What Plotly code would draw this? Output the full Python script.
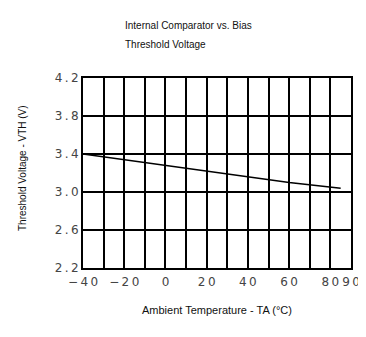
import plotly.graph_objects as go

# threshold voltage vs ambient temperature
temp_c = [-40, -20, 0, 20, 40, 60, 85]
threshold_v = [3.40, 3.34, 3.28, 3.22, 3.16, 3.10, 3.04]

x_grid = [-40, -30, -20, -10, 0, 10, 20, 30, 40, 50, 60, 70, 80, 90]
x_labels = ["\u221240", "", "\u221220", "", "0", "", "20", "", "40", "", "60", "", "80", "90"]
y_ticks = [2.2, 2.6, 3.0, 3.4, 3.8, 4.2]
y_labels = ["2.2", "2.6", "3.0", "3.4", "3.8", "4.2"]

title_lines = ["Internal Comparator vs. Bias", "Threshold Voltage"]
x_title = "Ambient Temperature - TA (\u00b0C)"
y_title = "Threshold Voltage - VTH (V)"


def spaced(s):
    # the reference glyphs are drawn wide, pad them with thin spaces
    return "\u2009".join(s)


# page has an 8px body margin, so the figure is offset by that much
OFF = 8
W, H = 366, 337
L, R, T, B = 83 - OFF, 366 - 351 + OFF, 78 - OFF, 337 - 268 + OFF
pw, ph = W - L - R, H - T - B


def px_x(x):
    return (x - OFF - L) / pw


def px_y(y):
    return (T + ph - (y - OFF)) / ph


fig = go.Figure()
fig.add_trace(go.Scatter(
    x=temp_c, y=threshold_v, mode="lines",
    line=dict(color="black", width=1.5),
    showlegend=False,
))

fig.update_layout(
    width=W, height=H,
    margin=dict(l=L, r=R, t=T, b=B),
    paper_bgcolor="white", plot_bgcolor="white",
    font=dict(family="Liberation Sans, Arial, sans-serif", color="#222"),
)

tick_font = dict(family="DejaVu Sans", size=12, color="#444")
fig.update_xaxes(
    range=[-40, 90], tickvals=x_grid, ticktext=[spaced(t) for t in x_labels],
    showgrid=True, gridcolor="black", gridwidth=1.5,
    showline=True, linecolor="black", linewidth=2, mirror=True,
    ticks="outside", ticklen=2, tickcolor="rgba(0,0,0,0)",
    tickfont=tick_font, zeroline=False, automargin=False,
)
fig.update_yaxes(
    range=[2.2, 4.2], tickvals=y_ticks, ticktext=[spaced(t) for t in y_labels],
    showgrid=True, gridcolor="black", gridwidth=1.5,
    showline=True, linecolor="black", linewidth=2, mirror=True,
    ticks="", tickfont=tick_font, zeroline=False, automargin=False,
)

text_font = dict(size=10, color="#111")
annotations = []
for i, line in enumerate(title_lines):
    annotations.append(dict(
        x=px_x(123), y=px_y(25 + 19 * i),
        xref="paper", yref="paper", xanchor="left", yanchor="middle",
        showarrow=False, text=line, font=text_font,
    ))
annotations.append(dict(
    x=px_x(217), y=px_y(310),
    xref="paper", yref="paper", xanchor="center", yanchor="middle",
    showarrow=False, text=x_title, font=dict(size=11, color="#111"),
))
annotations.append(dict(
    x=px_x(22), y=px_y(168),
    xref="paper", yref="paper", xanchor="center", yanchor="middle",
    showarrow=False, text=y_title, textangle=-90, font=text_font,
))
fig.update_layout(annotations=annotations)

fig.write_html("out.html")
